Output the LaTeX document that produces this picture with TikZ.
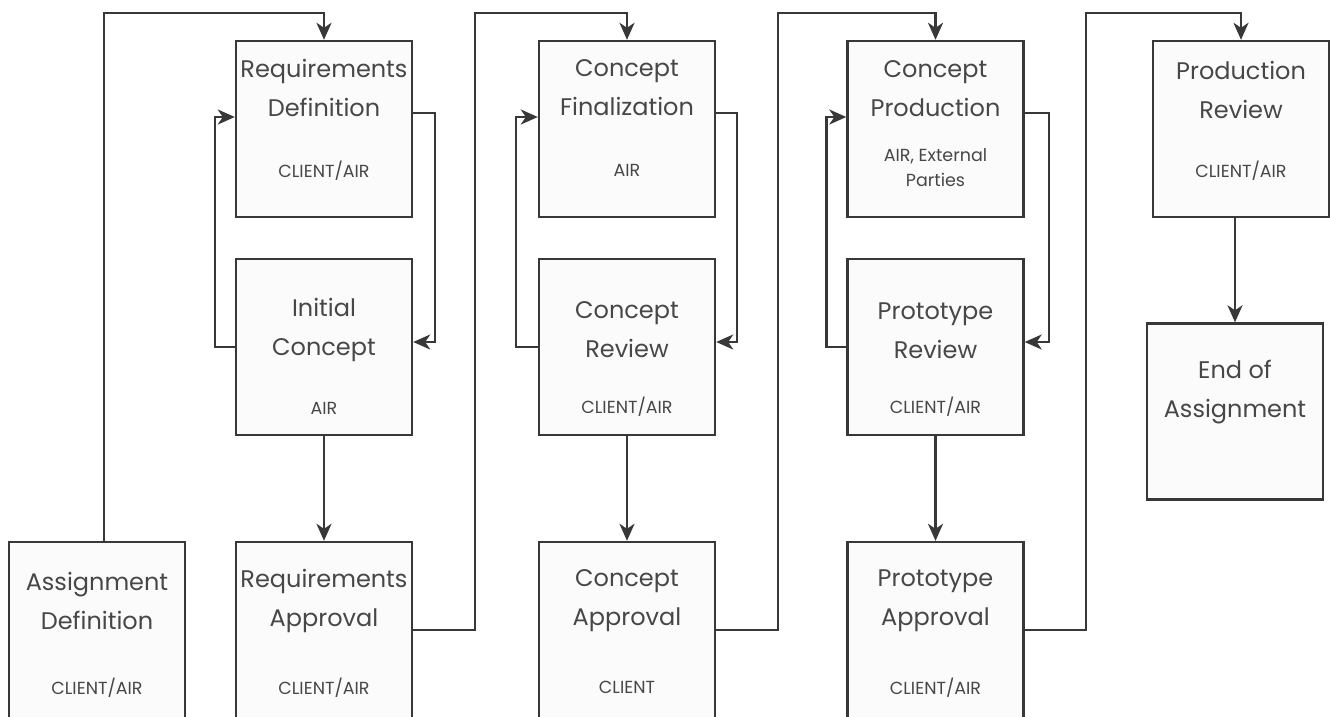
\documentclass[tikz,border=0pt]{standalone}
\usepackage{fontspec}
\setmainfont{Poppins}
\usetikzlibrary{arrows.meta, positioning}

\definecolor{linegray}{HTML}{383838}
\definecolor{textgray}{HTML}{474747}
\definecolor{boxfill}{HTML}{FBFBFB}

\tikzset{
	stagebox/.style={draw=linegray, line width=2.4pt, fill=boxfill, minimum width=176pt, minimum height=176pt, inner sep=0pt},
	stagetitle/.style={text=textgray, font=\fontsize{24}{39}\selectfont, align=center, inner sep=0pt},
	stagesub/.style={text=textgray, font=\fontsize{17.5}{25}\selectfont, align=center, inner sep=0pt},
	flow/.style={draw=linegray, line width=2.4pt, -{Stealth[length=17pt, width=15pt, inset=5pt]}}
}

\begin{document}
\begin{tikzpicture}[x=1pt, y=-1pt]
			\clip (0,0) rectangle (1330,716);
			\fill[white] (0,0) rectangle (1330,716);

			% Draw the boxes
			\node[stagebox] (ad) at (97,630) {};
			\node[stagebox] (rd) at (324,129) {};
			\node[stagebox] (ic) at (324,347) {};
			\node[stagebox] (ra) at (324,630) {};

			\node[stagebox] (cf) at (627,129) {};
			\node[stagebox] (cr) at (627,347) {};
			\node[stagebox] (ca) at (627,630) {};

			\node[stagebox] (cp) at (935.5,129) {};
			\node[stagebox] (prr) at (935.5,347) {};
			\node[stagebox] (pa) at (935.5,630) {};

			\node[stagebox] (pr) at (1241,129) {};
			\node[stagebox] (eoa) at (1235,411.5) {};

			% Texts of the boxes
			\node[stagetitle] (ad-t) at ([yshift=-60pt]ad.north) {Assignment\\Definition};
			\node[stagesub] (ad-s) at ([yshift=-147pt]ad.north) {CLIENT/AIR};

			\node[stagetitle] (rd-t) at ([yshift=-48pt]rd.north) {Requirements\\Definition};
			\node[stagesub] (rd-s) at ([yshift=-131pt]rd.north) {CLIENT/AIR};
			\node[stagetitle] (ic-t) at ([yshift=-72pt]ic.north) {Initial\\Concept};
			\node[stagesub] (ic-s) at ([yshift=-151pt]ic.north) {AIR};
			\node[stagetitle] (ra-t) at ([yshift=-60pt]ra.north) {Requirements\\Approval};
			\node[stagesub] (ra-s) at ([yshift=-147pt]ra.north) {CLIENT/AIR};

			\node[stagetitle] (cf-t) at ([yshift=-48pt]cf.north) {Concept\\Finalization};
			\node[stagesub] (cf-s) at ([yshift=-131pt]cf.north) {AIR};
			\node[stagetitle] (cr-t) at ([yshift=-72pt]cr.north) {Concept\\Review};
			\node[stagesub] (cr-s) at ([yshift=-149pt]cr.north) {CLIENT/AIR};
			\node[stagetitle] (ca-t) at ([yshift=-60pt]ca.north) {Concept\\Approval};
			\node[stagesub] (ca-s) at ([yshift=-147pt]ca.north) {CLIENT};

			\node[stagetitle] (cp-t) at ([yshift=-49pt]cp.north) {Concept\\Production};
			\node[stagesub] (cp-s) at ([yshift=-128pt]cp.north) {AIR, External\\Parties};
			\node[stagetitle] (prr-t) at ([yshift=-73pt]prr.north) {Prototype\\Review};
			\node[stagesub] (prr-s) at ([yshift=-149pt]prr.north) {CLIENT/AIR};
			\node[stagetitle] (pa-t) at ([yshift=-60pt]pa.north) {Prototype\\Approval};
			\node[stagesub] (pa-s) at ([yshift=-147pt]pa.north) {CLIENT/AIR};

			\node[stagetitle] (pr-t) at ([yshift=-50pt]pr.north) {Production\\Review};
			\node[stagesub] (pr-s) at ([yshift=-131pt]pr.north) {CLIENT/AIR};
			\node[stagetitle] (eoa-t) at ([yshift=-70pt]eoa.north) {End of\\Assignment};

			% Draw the connectors over the top
			\draw[flow] ([xshift=7pt]ad.north) |- ([yshift=27pt]rd.north) -- (rd.north);
			\draw[flow] (ra.east) -- ++(62,0) |- ([yshift=27pt]cf.north) -- (cf.north);
			\draw[flow] (ca.east) -- ++(62,0) |- ([yshift=27pt]cp.north) -- (cp.north);
			\draw[flow] (pa.east) -- ++(61,0) |- ([yshift=27pt]pr.north) -- (pr.north);

			% Draw the loops between the upper boxes
			\draw[flow] (ic.west) -- ++(-20,0) |- ([yshift=12pt]rd.west);
			\draw[flow] ([yshift=16pt]rd.east) -- ++(22,0) |- ([yshift=5pt]ic.east);
			\draw[flow] (cr.west) -- ++(-22,0) |- ([yshift=12pt]cf.west);
			\draw[flow] ([yshift=16pt]cf.east) -- ++(21,0) |- ([yshift=5pt]cr.east);
			\draw[flow] (prr.west) -- ++(-20,0) |- ([yshift=12pt]cp.west);
			\draw[flow] ([yshift=16pt]cp.east) -- ++(24,0) |- ([yshift=5pt]prr.east);

			% Draw the straight arrows down
			\draw[flow] (ic.south) -- (ra.north);
			\draw[flow] (cr.south) -- (ca.north);
			\draw[flow] (prr.south) -- (pa.north);
			\draw[flow] (pr.south -| eoa.north) -- (eoa.north);

\end{tikzpicture}
\end{document}
